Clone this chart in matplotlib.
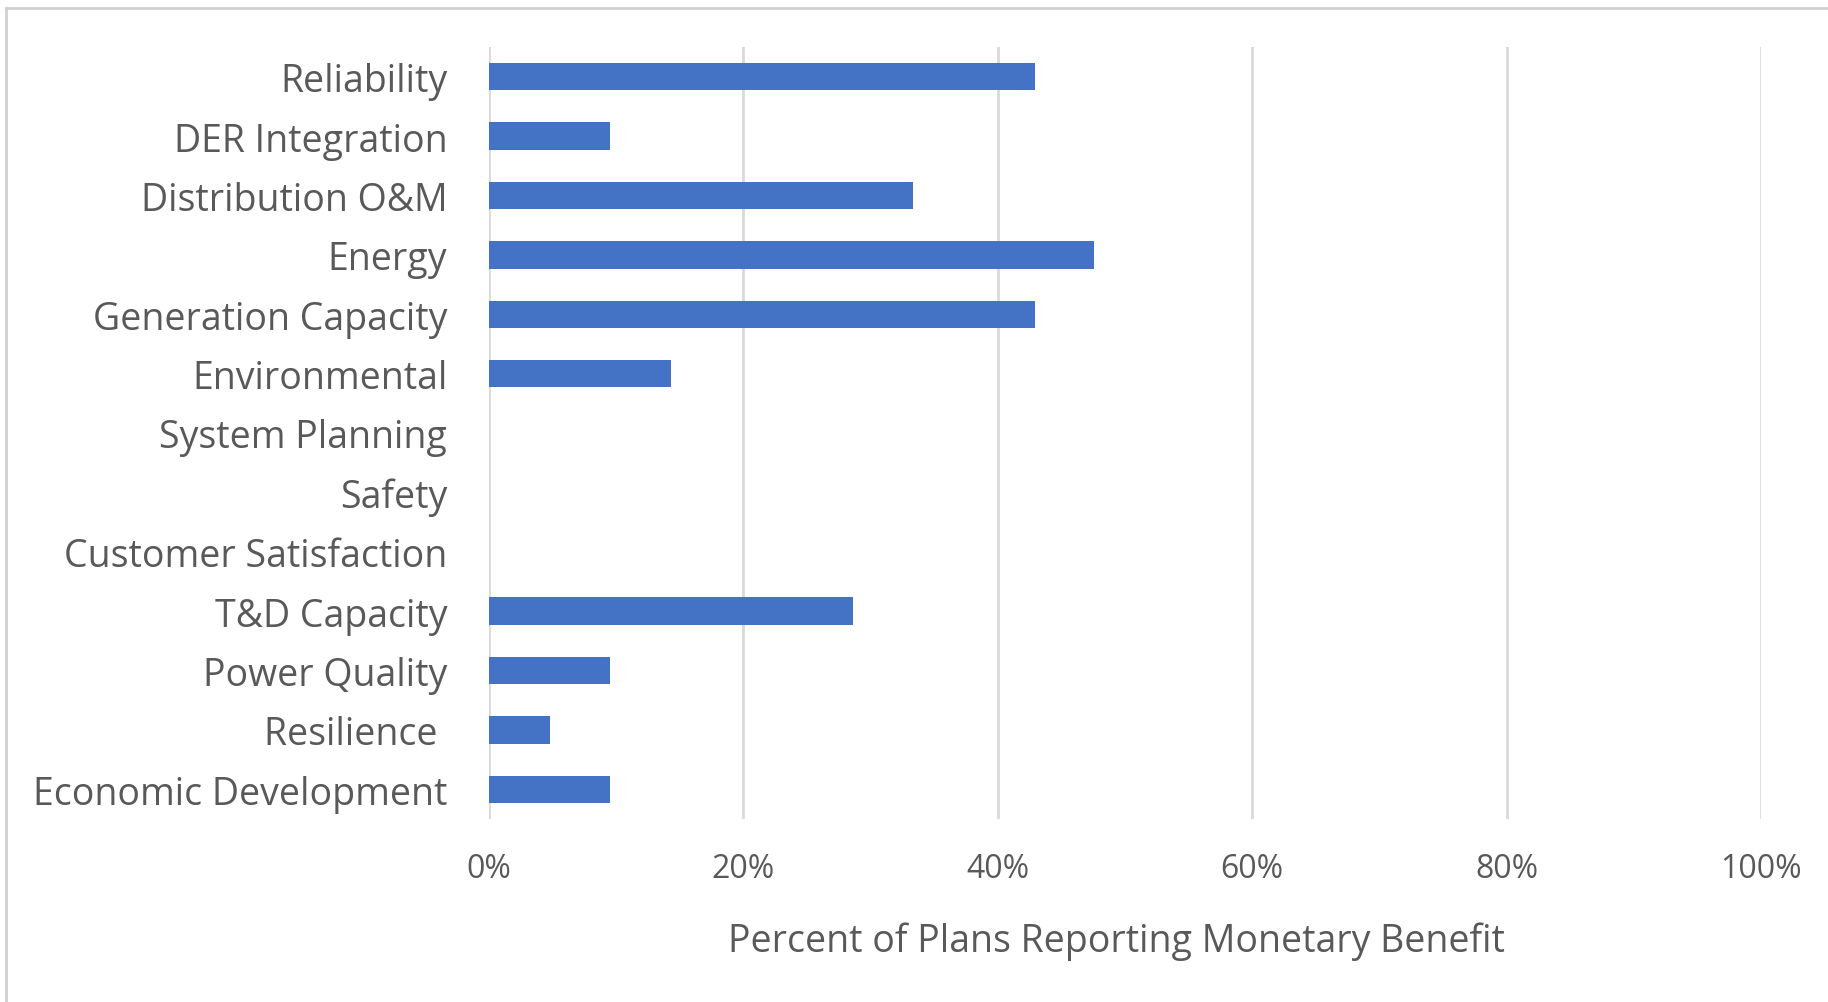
import matplotlib
matplotlib.use('Agg')

import matplotlib.pyplot as plt
from matplotlib.lines import Line2D
from matplotlib.ticker import PercentFormatter

plt.rcParams['font.family'] = ['Open Sans', 'DejaVu Sans']

# ---------- data ----------
categories = [
    'Reliability', 'DER Integration', 'Distribution O&M', 'Energy',
    'Generation Capacity', 'Environmental', 'System Planning', 'Safety',
    'Customer Satisfaction', 'T&D Capacity', 'Power Quality', 'Resilience ',
    'Economic Development',
]
percent_plans = [0.429, 0.095, 0.333, 0.476, 0.429, 0.143, 0.0, 0.0, 0.0,
                 0.286, 0.095, 0.048, 0.095]
x_ticks = [0, 0.2, 0.4, 0.6, 0.8, 1.0]

bar_color = '#4472C4'
text_color = '#595959'
grid_color = '#d9d9d9'

W, H = 1828, 1003
fig = plt.figure(figsize=(W / 100, H / 100), dpi=100)
ax = fig.add_axes([489 / W, 183 / H, (1761 - 489) / W, (955 - 183) / H])

y = list(range(len(categories)))
ax.barh(y, percent_plans, height=0.46, color=bar_color, zorder=3)
ax.set_ylim(len(categories) - 0.5, -0.5)
ax.set_xlim(0, 1)

ax.set_yticks(y)
ax.set_yticklabels(categories, fontsize=27, color=text_color)
ax.set_xticks(x_ticks)
ax.xaxis.set_major_formatter(PercentFormatter(1.0, decimals=0))
ax.tick_params(axis='x', length=0, pad=24, labelsize=23, labelcolor=text_color)
ax.tick_params(axis='y', length=0, pad=30)

ax.grid(axis='x', color=grid_color, linewidth=2, zorder=0)
for s in ax.spines.values():
    s.set_visible(False)

ax.set_xlabel('Percent of Plans Reporting Monetary Benefit', fontsize=27,
              color=text_color, va='center')
ax.xaxis.set_label_coords(0.493, -0.157)

# outer frame (top and left edges of the chart box)
fig.add_artist(Line2D([6 / W, 1.0], [1 - 9 / H, 1 - 9 / H], color='#d0d0d0', linewidth=2))
fig.add_artist(Line2D([6 / W, 6 / W], [0, 1 - 9 / H], color='#d0d0d0', linewidth=2))

plt.savefig('out.png', dpi=100)
